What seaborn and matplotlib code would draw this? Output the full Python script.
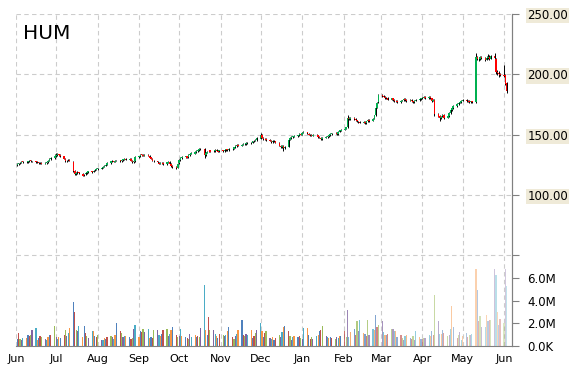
import matplotlib
matplotlib.use('Agg')
import numpy as np
import pandas as pd
import matplotlib.pyplot as plt
import matplotlib.dates as mdates
from matplotlib.colors import to_rgba
import seaborn as sns

# daily prices, Jun 2 2014 .. Jun 3 2015 (one row per month)
open_px = [
    124.8,125.8,126.2,126.9,127.8, 127.6,127.1,127.9,128.7,128.1, 127.9,127.6,127.1,126.3,126.7, 126.1,126.5,127.2,128.6,129.7, 130.6,
    132.1,133.1,133.9,133.0, 132.0,129.8,128.1,128.7,129.2, 127.5,119.8,117.6,118.0,118.8, 117.8,116.2,117.1,118.1,119.1, 119.6,119.1,120.4,121.1,
    121.3, 121.9,122.7,123.4,124.3,125.1, 126.4,127.9,128.1,127.6,128.2, 128.7,128.1,128.7,129.4,130.1, 129.1,129.8,128.6,127.0,127.9,
    131.4,132.1,133.6,133.1,132.5, 133.3,132.4,131.1,129.9,128.6, 127.9,126.9,126.1,126.4,126.9, 125.6,126.9,127.6,125.8,124.1, 123.2,122.6,
    126.3,129.2,130.4, 131.6,132.1,131.2,133.1,134.1, 134.4,135.6,136.6,137.1,138.1, 138.4,133.2,135.1,136.1,136.9, 136.1,136.6,137.6,136.7,136.2,
    137.1,136.4,137.3,137.9,136.9, 138.1,138.4,139.6,140.4,141.6, 140.9,141.7,142.6,141.9,143.1, 142.7,143.4,144.6,145.1,145.4,
    146.8,149.8,147.4,146.3,146.3, 145.6,144.9,143.9,145.1,144.6, 143.2,140.8,139.4,140.6,139.1, 140.2,145.8,147.1,148.1,148.2, 148.9,149.6,150.6,
    150.1,151.6, 152.1,150.9,150.1,149.6,149.1, 150.1,149.4,148.1,147.6,146.6, 147.4,148.1,148.6,149.6,150.4, 151.1,151.6,150.6,152.4,153.4,
    154.1,155.1,156.2,163.6,163.1, 164.1,163.1,162.1,160.9,160.6, 159.9,160.6,159.6,161.1,162.1, 161.6,163.3,166.2,172.3,176.7,
    182.6,182.1,181.6,180.1,180.6, 179.1,180.1,178.6,177.6,178.1, 177.1,178.1,178.6,179.6,178.6, 178.1,178.6,177.6,177.1,178.1, 178.6,179.6,
    180.1,180.6,181.1, 180.4,181.4,180.1,178.1,179.1, 166.8,165.1,163.6,165.1,166.6, 164.1,165.6,168.1,170.6,172.1, 173.6,175.6,176.6,177.1,
    178.1, 178.6,177.6,178.1,177.1,177.6, 177.2,214.2,213.1,212.6,214.1, 213.6,212.1,213.6,214.6,213.1, 214.8,213.0,202.2,201.2,200.6,
    199.6,199.2,192.5,
]
high_px = [
    126.2,126.8,127.5,127.9,128.4, 128.2,128.4,129.2,129.0,128.6, 128.4,128.0,127.4,127.3,127.2, 127.0,127.6,129.0,130.4,131.2, 133.8,
    134.5,134.6,134.3,133.6, 132.5,130.3,129.4,129.9,129.8, 128.0,120.5,119.0,119.5,119.3, 118.3,117.8,118.7,119.8,120.3, 120.2,120.9,121.8,122.1,
    122.7, 123.4,124.1,124.8,125.6,127.2, 128.4,128.7,128.6,128.9,129.2, 129.3,129.4,130.1,130.7,130.6, 130.3,130.3,129.1,128.5,132.3,
    132.7,134.2,134.3,133.7,133.9, 133.8,132.9,131.6,130.4,129.2, 128.4,127.5,127.1,127.5,127.4, 127.6,128.2,128.1,126.3,124.7, 123.8,126.7,
    129.6,131.1,132.2, 132.7,132.5,133.7,134.7,135.3, 136.1,137.1,137.9,138.7,139.2, 138.9,135.7,136.7,137.5,137.5, 137.2,138.2,137.9,137.2,137.7,
    137.7,137.8,138.5,138.4,138.6, 139.1,140.1,141.2,142.2,142.1, 142.4,143.1,143.2,143.7,143.6, 144.1,145.1,145.8,146.1,147.8,
    151.0,150.2,147.9,147.0,146.9, 146.1,145.4,145.6,145.6,145.0, 143.7,141.4,141.1,141.2,140.6, 146.6,147.7,148.6,148.8,149.4, 150.1,151.1,151.2,
    152.1,152.7, 152.6,151.5,150.7,150.2,150.6, 150.7,149.9,148.7,148.2,148.1, 148.7,149.1,150.1,151.1,151.7, 152.1,152.2,153.1,154.1,154.7,
    155.7,156.7,166.0,164.4,164.8, 164.6,163.6,162.5,161.5,161.2, 161.2,161.2,161.7,162.8,162.7, 163.6,166.7,172.7,177.3,183.4,
    183.6,182.8,182.2,181.2,181.2, 180.7,180.6,179.2,178.7,178.7, 178.7,179.1,180.2,180.2,179.2, 179.2,179.2,178.2,178.7,179.2, 180.2,180.7,
    181.2,181.7,181.8, 182.2,182.0,180.6,179.7,179.8, 167.6,166.0,165.7,167.2,167.2, 166.1,168.7,171.2,172.7,174.2, 176.2,177.2,177.7,178.7,
    179.2, 179.2,178.7,178.7,178.2,178.2, 218.0,215.2,214.2,215.2,215.2, 214.2,215.2,216.7,215.7,216.2, 217.5,213.8,203.5,202.5,201.5,
    207.5,200.2,193.5,
]
low_px = [
    124.2,125.2,125.8,126.3,126.9, 126.5,126.7,127.4,127.6,127.2, 126.9,126.4,125.7,125.8,125.4, 125.6,126.0,126.9,128.2,129.2, 130.2,
    131.6,132.6,132.6,131.9, 129.5,127.4,127.6,128.2,128.0, 119.4,116.8,117.0,117.6,117.4, 115.4,115.7,116.6,117.7,118.6, 118.4,118.7,119.9,120.4,
    120.8, 121.5,122.2,123.0,123.9,124.7, 126.0,127.3,127.0,127.2,127.8, 127.5,127.7,128.3,129.0,128.7, 128.7,128.0,126.6,126.6,127.5,
    130.9,131.6,132.5,132.0,132.0, 132.0,130.4,129.5,127.9,127.4, 126.5,125.4,125.6,125.9,124.9, 125.0,126.5,125.4,123.4,122.2, 121.6,122.1,
    125.9,128.6,129.9, 131.0,130.5,130.7,132.5,133.6, 133.9,135.0,136.0,136.6,137.6, 131.0,132.6,134.5,135.5,135.4, 135.6,136.0,136.1,135.4,135.6,
    135.9,135.9,136.8,136.5,136.4, 137.6,138.0,139.1,139.9,140.5, 140.4,141.2,141.5,141.4,142.2, 142.2,142.9,144.1,144.5,144.9,
    146.4,147.0,145.9,145.7,145.0, 144.5,143.4,143.4,143.9,143.0, 140.5,139.0,139.0,136.7,138.5, 139.8,145.3,146.6,147.6,147.7, 148.4,149.1,149.5,
    149.5,151.0, 150.4,149.5,148.9,148.5,148.6, 148.9,147.5,146.9,145.2,146.0, 146.9,147.6,148.1,149.0,149.8, 150.5,150.0,150.1,151.9,152.8,
    153.5,154.6,155.7,162.4,162.5, 162.5,161.4,160.5,159.9,159.4, 159.3,158.9,159.0,160.6,160.9, 161.0,162.8,165.6,171.7,176.2,
    181.4,180.9,179.4,179.5,178.4, 178.5,177.9,176.9,177.0,176.4, 176.5,177.5,178.0,177.9,177.4, 177.5,176.9,176.4,176.5,177.5, 178.0,179.0,
    179.5,180.0,179.8, 179.8,179.4,177.4,177.5,165.5, 164.3,161.5,162.9,164.5,163.4, 163.5,165.0,167.5,170.0,171.5, 173.0,175.0,176.0,176.5,
    177.5, 176.9,177.0,176.4,176.5,176.2, 176.6,211.5,211.2,211.8,212.6, 210.8,211.5,212.8,212.0,212.4, 212.8,200.5,199.5,197.5,198.5,
    197.8,191.0,184.5,
]
close_px = [
    125.5,126.0,126.8,127.2,127.5, 127.0,127.8,128.5,128.2,127.9, 127.5,127.0,126.2,126.6,126.0, 126.4,127.0,128.5,129.8,130.5, 132.0,
    133.0,133.8,133.2,132.6, 130.0,128.0,128.6,129.0,128.5, 120.0,117.5,118.2,118.6,118.0, 116.0,117.0,118.0,119.0,119.5, 119.0,120.2,121.0,121.2,
    122.0, 122.8,123.5,124.2,125.0,126.5, 127.8,128.0,127.5,128.3,128.6, 128.0,128.8,129.5,130.0,129.2, 129.6,128.5,127.2,127.8,131.5,
    132.0,133.5,133.0,132.6,133.2, 132.5,131.0,130.0,128.5,128.0, 127.0,126.0,126.5,126.8,125.5, 127.0,127.5,126.0,124.0,123.0, 122.5,126.0,
    129.0,130.5,131.5, 132.0,131.0,133.0,134.0,134.5, 135.5,136.5,137.0,138.0,138.5, 133.0,135.0,136.0,136.8,136.0, 136.5,137.5,136.8,136.0,137.0,
    136.5,137.2,137.8,137.0,138.0, 138.5,139.5,140.5,141.5,141.0, 141.8,142.5,142.0,143.0,142.8, 143.5,144.5,145.0,145.5,147.0,
    150.0,147.5,146.5,146.2,145.5, 145.0,144.0,145.0,144.5,143.5, 141.0,139.5,140.5,139.0,139.8, 146.0,147.0,148.0,148.3,148.8, 149.5,150.5,150.0,
    151.5,152.0, 151.0,150.0,149.5,149.0,150.0, 149.5,148.0,147.5,146.5,147.5, 148.0,148.5,149.5,150.5,151.0, 151.5,150.5,152.5,153.5,154.0,
    155.0,156.0,163.5,163.0,164.0, 163.0,162.0,161.0,160.5,160.0, 160.5,159.5,161.0,162.0,161.5, 163.0,166.0,172.0,176.5,182.5,
    182.0,181.5,180.0,180.5,179.0, 180.0,178.5,177.5,178.0,177.0, 178.0,178.5,179.5,178.5,178.0, 178.5,177.5,177.0,178.0,178.5, 179.5,180.0,
    180.5,181.0,180.5, 181.5,180.0,178.0,179.0,167.0, 165.0,163.5,165.0,166.5,164.0, 165.5,168.0,170.5,172.0,173.5, 175.5,176.5,177.0,178.0,
    178.5, 177.5,178.0,177.0,177.5,177.0, 214.0,213.0,212.5,214.0,213.5, 212.0,213.5,214.5,213.0,215.0, 213.5,202.0,201.0,200.5,199.5,
    199.0,192.0,186.0,
]
# volume in millions of shares
volume_m = [
    0.65,1.15,0.6,0.5,0.7, 0.75,1.0,0.9,1.0,1.4, 1.6,0.5,0.7,0.85,0.8, 0.6,0.5,0.8,1.0,0.95, 1.8,
    0.8,0.6,0.8,0.7, 1.0,1.4,0.9,1.15,1.6, 3.9,3.05,1.45,1.3,1.8, 0.8,1.75,1.15,0.9,0.7, 1.3,1.3,0.9,0.8,
    1.0, 0.5,0.55,0.7,0.6,0.8, 0.9,0.8,0.6,1.0,2.0, 1.3,1.15,0.8,0.9,0.85, 0.8,0.6,0.7,1.5,1.9,
    0.8,1.3,1.2,1.5,1.2, 1.5,0.7,0.8,0.7,1.4, 1.4,1.0,0.9,1.1,1.4, 1.5,0.9,1.1,1.4,1.7, 1.0,0.8,
    0.9,1.5,0.9, 0.8,0.7,0.6,1.07,0.8, 1.0,0.8,0.9,0.8,1.57, 5.4,1.4,1.0,2.6,1.4, 1.4,1.1,0.9,0.7,1.07,
    1.0,0.9,1.0,1.35,1.7, 0.8,0.6,0.9,1.07,1.4, 2.3,1.0,0.9,1.07,1.0, 1.4,0.7,0.9,1.13,1.4,
    2.0,1.3,0.8,1.13,1.3, 0.7,0.6,0.8,0.55,0.7, 1.0,0.8,1.2,1.66,1.78, 1.3,0.9,0.5,0.8,0.9, 0.8,0.9,0.7,
    0.6,1.57, 1.57,1.0,0.6,0.8,0.6, 0.9,1.0,1.3,1.4,1.78, 0.9,0.8,0.7,0.8,0.7, 0.6,0.8,0.7,0.9,0.9,
    1.3,0.8,3.2,0.8,1.2, 1.5,1.0,2.2,1.3,2.3, 1.13,1.07,0.9,2.3,1.0, 1.5,1.4,2.75,1.7,1.9,
    2.2,1.2,1.0,1.0,1.1, 1.5,1.5,1.35,1.3,0.8, 1.0,0.7,0.55,0.9,1.0, 0.7,0.6,0.9,0.55,1.35, 0.8,0.6,
    0.6,0.7,0.7, 1.0,0.9,1.35,1.0,4.5, 2.2,1.1,1.05,1.45,1.13, 0.9,1.0,1.5,3.55,1.66, 0.7,1.0,1.2,0.55,
    0.9, 1.13,0.8,1.0,1.0,1.07, 6.8,5.0,2.2,2.67,1.66, 1.66,2.75,2.2,2.3,2.3, 6.8,6.3,3.05,1.9,2.4,
    2.0,6.8,5.3,
]
price_ticks = [50, 100, 150, 200, 250]
price_labels = ['', '100.00', '150.00', '200.00', '250.00']
vol_ticks = [0, 2, 4, 6]
vol_labels = ['0.0K', '2.0M', '4.0M', '6.0M']
ticker = 'HUM'

dates = pd.bdate_range('2014-06-02', '2015-06-03')
df = pd.DataFrame({'date': dates, 'open': open_px, 'high': high_px,
                   'low': low_px, 'close': close_px, 'volume': volume_m})
df['x'] = mdates.date2num(df['date'].dt.to_pydatetime())

sns.set_style('white')
plt.rcParams['font.family'] = ['DejaVu Sans']
plt.rcParams['text.color'] = 'black'

fig = plt.figure(figsize=(5.7, 3.7), dpi=100)
ax = fig.add_axes([16/570, 24/370, 496/570, 332/370])
ax2 = ax.twinx()
ax.yaxis.tick_right()

grey = '#808080'
up = df['close'] >= df['open']

# volume bars, office-style colour cycle fading out toward the end
palette = ['#4f81bd', '#c0504d', '#9bbb59', '#8064a2', '#4bacc6', '#f79646']
fade_start = mdates.date2num(pd.Timestamp('2015-02-01'))
span = df['x'].iloc[-1] - fade_start
bar_cols = []
for i, xv in enumerate(df['x']):
    a = 1.0 if xv < fade_start else 0.8 - 0.45 * (xv - fade_start) / span
    bar_cols.append(to_rgba(palette[i % len(palette)], a))
ax2.bar(df['x'], df['volume'], width=0.9, color=bar_cols, linewidth=0)

# candles
ax.vlines(df['x'], df['low'], df['high'], color='black', linewidth=0.7, zorder=3)
body_low = np.minimum(df['open'], df['close'])
body_h = np.maximum((df['close'] - df['open']).abs(), 0.4)
ax.bar(df['x'], body_h, bottom=body_low, width=1.1,
       color=np.where(up, '#00b050', '#ff0000'), linewidth=0, zorder=4)

ax.set_xlim(mdates.date2num(pd.Timestamp('2014-06-01')),
            mdates.date2num(pd.Timestamp('2015-06-07')))
ax.set_ylim(-25.1, 250)
ax2.set_ylim(0, 29.5)

ax.set_yticks(price_ticks)
lbls = ax.set_yticklabels(price_labels)
for t in lbls:
    if t.get_text():
        t.set_bbox(dict(facecolor='#efead8', edgecolor='none', pad=1))
ax2.set_yticks(vol_ticks)
ax2.set_yticklabels(vol_labels)

ax.xaxis.set_major_locator(mdates.MonthLocator())
ax.xaxis.set_major_formatter(mdates.DateFormatter('%b'))

ax.grid(True, color='#cccccc', linestyle=(0, (4, 3)), linewidth=0.8)
ax2.grid(False)
ax.set_axisbelow(True)

ax.tick_params(axis='y', length=5, color=grey, labelcolor='black', labelsize=8.5, pad=6)
ax2.tick_params(axis='y', length=5, color=grey, labelcolor='black', labelsize=8.5, pad=6)
ax.tick_params(axis='x', length=3, color=grey, labelcolor='black', labelsize=8, pad=3)

for a in (ax, ax2):
    a.spines['top'].set_visible(False)
    a.spines['left'].set_visible(False)
    a.spines['right'].set_color(grey)
    a.spines['bottom'].set_color(grey)
ax2.spines['bottom'].set_visible(False)

fig.text(23/570, 1 - 39/370, ticker, fontsize=14.5, va='baseline', ha='left', color='black')

fig.savefig('out.png', dpi=100)
